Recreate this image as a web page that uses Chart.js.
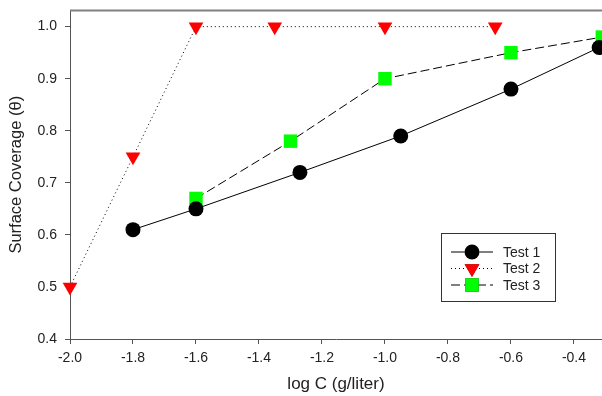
<!DOCTYPE html>
<html>
<head>
<meta charset="utf-8">
<script src="https://cdn.jsdelivr.net/npm/chart.js@4.4.1/dist/chart.umd.min.js"></script>
<style>
  html, body { margin: 0; padding: 0; background: #fff; overflow: hidden; }
  #wrap { width: 602px; height: 396px; position: relative; }
</style>
</head>
<body>
<div id="wrap"><canvas id="chart"></canvas></div>
<script>
// values
const test1X = [-1.8, -1.6, -1.27, -0.95, -0.6, -0.32];
const test1Y = [0.61, 0.65, 0.72, 0.79, 0.88, 0.96];
const test2X = [-2.0, -1.8, -1.6, -1.35, -1.0, -0.65];
const test2Y = [0.50, 0.75, 1.00, 1.00, 1.00, 1.00];
const test3X = [-1.6, -1.3, -1.0, -0.6, -0.31];
const test3Y = [0.67, 0.78, 0.90, 0.95, 0.98];
const xTicks = [-2.0, -1.8, -1.6, -1.4, -1.2, -1.0, -0.8, -0.6, -0.4];
const yTicks = [0.4, 0.5, 0.6, 0.7, 0.8, 0.9, 1.0];
const seriesNames = ['Test 1', 'Test 2', 'Test 3'];

const FONT = 'Arial, "Liberation Sans", sans-serif';

function toPoints(xs, ys) {
    return xs.map((x, i) => ({ x: x, y: ys[i] }));
}

// top frame line + boxed legend with line and marker samples
const framePlugin = {
    id: 'frame',
    afterDraw(chart) {
        const { ctx, chartArea } = chart;
        ctx.save();
        ctx.strokeStyle = '#808080';
        ctx.lineWidth = 2;
        ctx.beginPath();
        ctx.moveTo(chartArea.left, chartArea.top);
        ctx.lineTo(chart.width, chartArea.top);
        ctx.stroke();

        // legend box
        const bx = 441, by = 233, bw = 114, bh = 68;
        ctx.fillStyle = '#fff';
        ctx.fillRect(bx, by, bw, bh);
        ctx.strokeStyle = '#333';
        ctx.lineWidth = 1;
        ctx.strokeRect(bx + 0.5, by + 0.5, bw, bh);

        chart.data.datasets.forEach((ds, i) => {
            const y = 252 + i * 16.5;
            ctx.strokeStyle = '#000';
            ctx.lineWidth = 1;
            ctx.setLineDash(ds.borderDash || []);
            ctx.beginPath();
            ctx.moveTo(451, y);
            ctx.lineTo(493, y);
            ctx.stroke();
            ctx.setLineDash([]);
            Chart.helpers.drawPoint(ctx, {
                pointStyle: ds.pointStyle,
                rotation: ds.pointRotation || 0,
                radius: ds.pointRadius,
                borderWidth: 0
            }, 472, y);
            ctx.fillStyle = ds.pointBackgroundColor;
            ctx.fill();
            ctx.fillStyle = '#222';
            ctx.font = '14px ' + FONT;
            ctx.textBaseline = 'middle';
            ctx.fillText(seriesNames[i], 503, y + 1);
        });
        ctx.restore();
    }
};

new Chart(document.getElementById('chart'), {
    type: 'scatter',
    data: {
        datasets: [
            {
                label: seriesNames[0],
                data: toPoints(test1X, test1Y),
                showLine: true,
                borderColor: '#000',
                borderWidth: 1,
                pointStyle: 'circle',
                pointRadius: 7.5,
                pointBackgroundColor: '#000',
                pointBorderWidth: 0,
                clip: false
            },
            {
                label: seriesNames[1],
                data: toPoints(test2X, test2Y),
                showLine: true,
                borderColor: '#000',
                borderWidth: 1,
                borderDash: [1, 3],
                pointStyle: 'triangle',
                pointRotation: 180,
                pointRadius: 8.5,
                pointBackgroundColor: '#ff0000',
                pointBorderWidth: 0,
                clip: false
            },
            {
                label: seriesNames[2],
                data: toPoints(test3X, test3Y),
                showLine: true,
                borderColor: '#000',
                borderWidth: 1,
                borderDash: [9, 4],
                pointStyle: 'rect',
                pointRadius: 9.5,
                pointBackgroundColor: '#00ff00',
                pointBorderWidth: 0,
                clip: false
            }
        ]
    },
    options: {
        responsive: true,
        maintainAspectRatio: false,
        animation: false,
        layout: { autoPadding: false, padding: { top: 10.5, right: 0, left: 0, bottom: 0 } },
        plugins: {
            legend: { display: false },
            tooltip: { enabled: false }
        },
        scales: {
            x: {
                type: 'linear',
                min: -2.0,
                max: -0.311,
                afterBuildTicks: (scale) => { scale.ticks = xTicks.map(v => ({ value: v })); },
                afterFit: (scale) => {
                    scale.height = 57;
                    scale.paddingLeft = 0;
                    scale.paddingRight = 0;
                },
                ticks: {
                    color: '#222',
                    font: { family: FONT, size: 14 },
                    padding: 6,
                    maxRotation: 0,
                    callback: (v) => v.toFixed(1)
                },
                grid: { drawOnChartArea: false, drawTicks: true, tickLength: 5, color: '#555' },
                border: { display: true, color: '#555', width: 1 },
                title: {
                    display: true,
                    text: 'log C (g/liter)',
                    color: '#222',
                    font: { family: FONT, size: 17 },
                    padding: { top: 0, bottom: 1 }
                }
            },
            y: {
                type: 'linear',
                min: 0.4,
                max: 1.031,
                afterBuildTicks: (scale) => { scale.ticks = yTicks.map(v => ({ value: v })); },
                afterFit: (scale) => {
                    scale.width = 70;
                    scale.paddingTop = 0;
                    scale.paddingBottom = 0;
                },
                ticks: {
                    color: '#222',
                    font: { family: FONT, size: 14 },
                    padding: 8,
                    callback: (v) => v.toFixed(1)
                },
                grid: { drawOnChartArea: false, drawTicks: true, tickLength: 5, color: '#555' },
                border: { display: true, color: '#555', width: 1 },
                title: {
                    display: true,
                    text: 'Surface Coverage (\u03b8)',
                    color: '#222',
                    font: { family: FONT, size: 16.5 },
                    padding: { top: 7, bottom: 0 }
                }
            }
        }
    },
    plugins: [framePlugin]
});
</script>
</body>
</html>
